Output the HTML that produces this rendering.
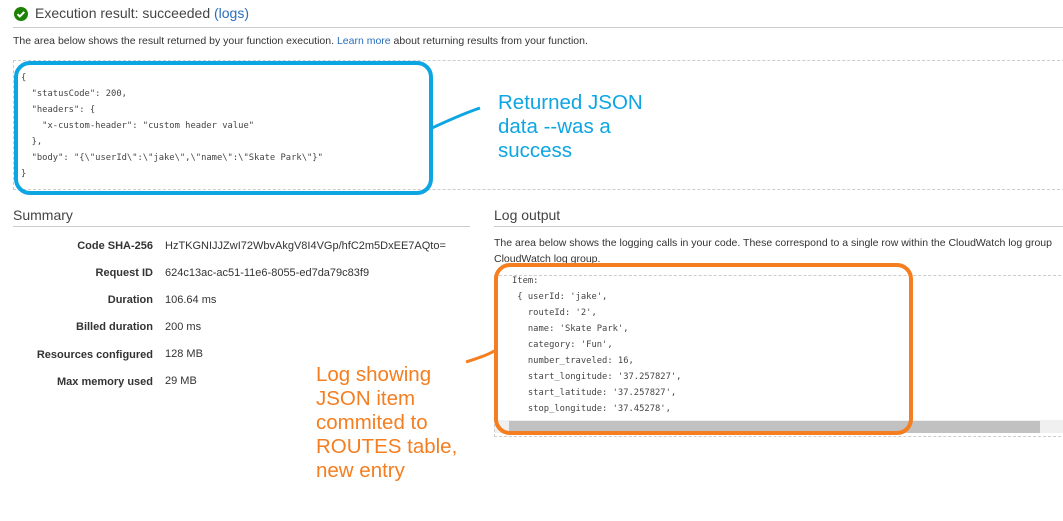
<!DOCTYPE html>
<html><head><meta charset="utf-8"><style>
body{margin:0;width:1063px;height:521px;background:#fff;position:relative;overflow:hidden;font-family:"Liberation Sans",sans-serif;color:#333}
.a{position:absolute;white-space:nowrap}
.mono{font-family:"DejaVu Sans Mono","Liberation Mono",monospace;font-size:8.8px;color:#444}
.lbl{font-weight:bold;font-size:11px;text-align:right;width:140px;left:13px}
.val{left:165px;font-size:11px}
</style></head><body>
<svg class="a" style="left:13px;top:6px" width="16" height="16"><circle cx="8" cy="8" r="7" fill="#1d8102"/><path d="M4.5 8.2l2.3 2.3 4.5-4.6" stroke="#fff" stroke-width="2" fill="none"/></svg>
<div class="a" style="left:35px;top:5px;font-size:14px;color:#444">Execution result: succeeded <span style="color:#2a6ebb">(logs)</span></div>
<div class="a" style="left:13px;top:27px;width:1050px;border-top:1px solid #ccc"></div>
<div class="a" style="left:13px;top:35px;font-size:10.5px">The area below shows the result returned by your function execution. <span style="color:#2a6ebb">Learn more</span> about returning results from your function.</div>
<div class="a" style="left:13px;top:60px;width:1060px;height:128px;border:1px dashed #ccc"></div>
<div class="a mono" style="left:21px;top:70px;line-height:16px">{<br>&nbsp;&nbsp;"statusCode": 200,<br>&nbsp;&nbsp;"headers": {<br>&nbsp;&nbsp;&nbsp;&nbsp;"x-custom-header": "custom header value"<br>&nbsp;&nbsp;},<br>&nbsp;&nbsp;"body": "{\"userId\":\"jake\",\"name\":\"Skate Park\"}"<br>}</div>

<div class="a" style="left:13px;top:207px;font-size:14px;color:#444">Summary</div>
<div class="a" style="left:13px;top:226px;width:457px;border-top:1px solid #ccc"></div>
<div class="a lbl" style="top:240px">Code SHA-256</div><div class="a val" style="top:240px">HzTKGNIJJZwI72WbvAkgV8I4VGp/hfC2m5DxEE7AQto=</div>
<div class="a lbl" style="top:267px">Request ID</div><div class="a val" style="top:267px">624c13ac-ac51-11e6-8055-ed7da79c83f9</div>
<div class="a lbl" style="top:294px">Duration</div><div class="a val" style="top:294px">106.64 ms</div>
<div class="a lbl" style="top:321px">Billed duration</div><div class="a val" style="top:321px">200 ms</div>
<div class="a lbl" style="top:349px">Resources configured</div><div class="a val" style="top:348px">128 MB</div>
<div class="a lbl" style="top:376px">Max memory used</div><div class="a val" style="top:375px">29 MB</div>

<div class="a" style="left:494px;top:207px;font-size:14px;color:#444">Log output</div>
<div class="a" style="left:494px;top:226px;width:569px;border-top:1px solid #ccc"></div>
<div class="a" style="left:494px;top:235px;font-size:10.5px;line-height:16px">The area below shows the logging calls in your code. These correspond to a single row within the CloudWatch log group<br>CloudWatch log group.</div>
<div class="a" style="left:494px;top:275px;width:580px;height:160px;border:1px dashed #ccc"></div>
<div class="a" style="left:495px;top:420px;width:568px;height:13px;background:#f0f0f0"></div>
<div class="a" style="left:509px;top:421px;width:531px;height:12px;background:#c1c1c1"></div>
<div class="a mono" style="left:512px;top:273px;line-height:16px">Item:<br>&nbsp;{ userId: 'jake',<br>&nbsp;&nbsp;&nbsp;routeId: '2',<br>&nbsp;&nbsp;&nbsp;name: 'Skate Park',<br>&nbsp;&nbsp;&nbsp;category: 'Fun',<br>&nbsp;&nbsp;&nbsp;number_traveled: 16,<br>&nbsp;&nbsp;&nbsp;start_longitude: '37.257827',<br>&nbsp;&nbsp;&nbsp;start_latitude: '37.257827',<br>&nbsp;&nbsp;&nbsp;stop_longitude: '37.45278',</div>

<svg class="a" style="left:0;top:0" width="1063" height="521">
<rect x="16" y="63" width="415" height="130" rx="14" fill="none" stroke="#0ea5e3" stroke-width="4"/>
<path d="M432 128 C445 122,462 114,480 108" stroke="#0ea5e3" stroke-width="3" fill="none"/>
<rect x="496" y="265" width="415" height="168" rx="14" fill="none" stroke="#f47e20" stroke-width="4"/>
<path d="M466 362 C478 358,488 355,496 350" stroke="#f47e20" stroke-width="3" fill="none"/>
</svg>
<div class="a" style="left:498px;top:91px;font-size:20.5px;line-height:24px;color:#0ea5e3">Returned JSON<br>data --was a<br>success</div>
<div class="a" style="left:316px;top:363px;font-size:20.5px;line-height:24px;color:#f47e20">Log showing<br>JSON item<br>commited to<br>ROUTES table,<br>new entry</div>
</body></html>
